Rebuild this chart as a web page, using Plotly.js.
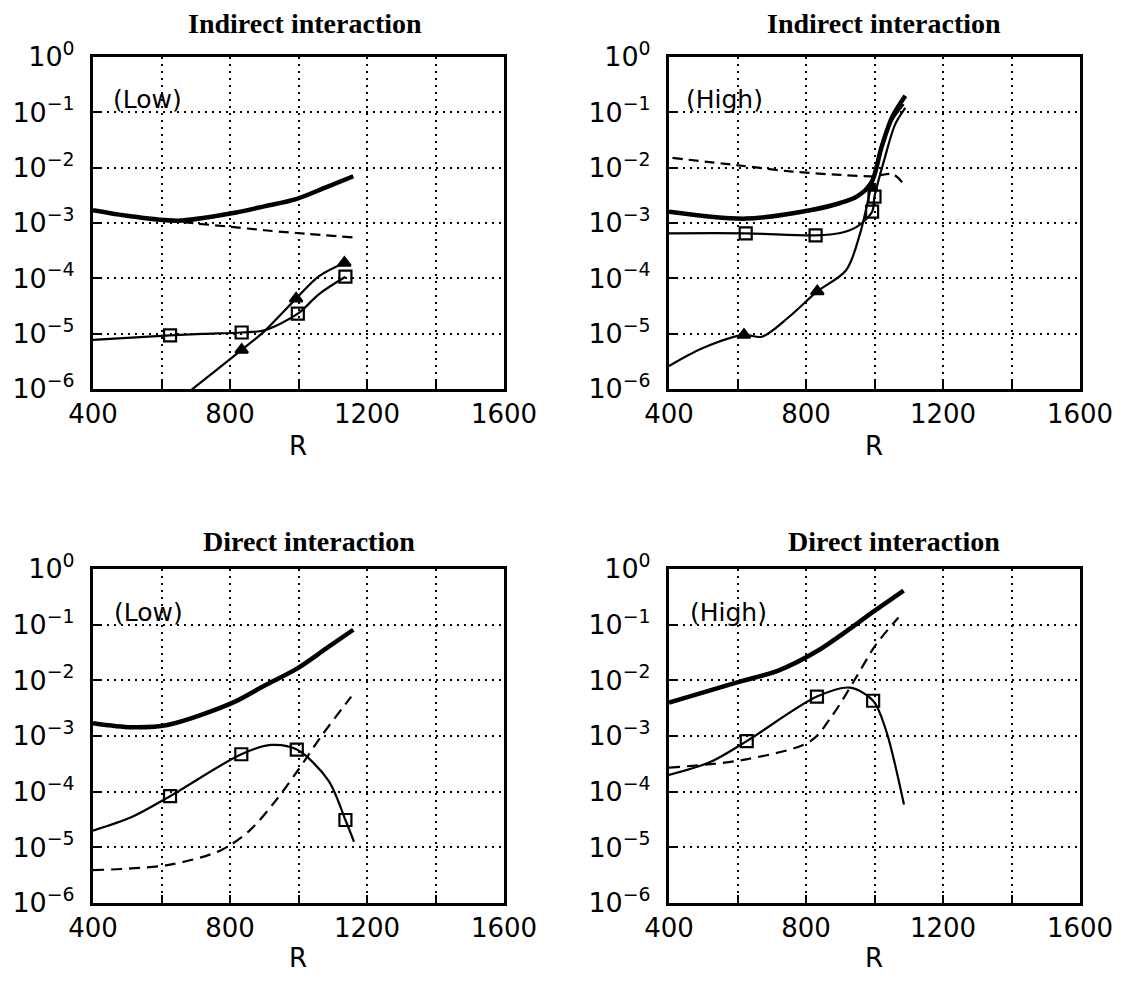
<!DOCTYPE html>
<html>
<head>
<meta charset="utf-8">
<script src="https://cdn.plot.ly/plotly-3.0.1.min.js"></script>
<style>html,body{margin:0;padding:0;background:#fff;}</style>
</head>
<body>
<div id="chart" style="width:1123px;height:985px;"></div>
<script>
// ---------- Panel 1: Indirect interaction (Low) ----------
const p1ThickR = [400, 500, 648, 805, 900, 993, 1080, 1160];
const p1ThickV = [1.7e-3, 1.35e-3, 1.1e-3, 1.5e-3, 2.0e-3, 2.7e-3, 4.4e-3, 7.0e-3];
const p1DashR = [617, 700, 805, 900, 993, 1160];
const p1DashV = [1.1e-3, 9.8e-4, 8.5e-4, 7.4e-4, 6.6e-4, 5.5e-4];
const p1SqR = [400, 500, 625, 720, 834, 900, 998, 1060, 1137];
const p1SqV = [7.7e-6, 8.4e-6, 9.3e-6, 9.9e-6, 1.05e-5, 1.15e-5, 2.3e-5, 5.2e-5, 1.07e-4];
const p1SqMarkR = [625, 834, 998, 1137];
const p1SqMarkV = [9.3e-6, 1.05e-5, 2.3e-5, 1.07e-4];
const p1TriR = [650, 690, 760, 834, 900, 993, 1060, 1134];
const p1TriV = [6.5e-7, 1.0e-6, 2.2e-6, 5.1e-6, 1.1e-5, 4.3e-5, 1.1e-4, 1.9e-4];
const p1TriMarkR = [834, 993, 1134];
const p1TriMarkV = [5.1e-6, 4.3e-5, 1.9e-4];

// ---------- Panel 2: Indirect interaction (High) ----------
const p2ThickR = [400, 624, 812, 900, 948, 990, 1021, 1052, 1090];
const p2ThickV = [1.6e-3, 1.2e-3, 1.7e-3, 2.3e-3, 3.0e-3, 5.2e-3, 2.4e-2, 8.3e-2, 0.2];
const p2DashR = [410, 603, 760, 900, 996, 1054, 1090];
const p2DashV = [1.5e-2, 1.1e-2, 8.5e-3, 7.4e-3, 7.0e-3, 7.6e-3, 4.6e-3];
const p2SqR = [400, 624, 828, 900, 948, 993, 1000, 1030, 1060, 1090];
const p2SqV = [6.5e-4, 6.5e-4, 6.0e-4, 6.6e-4, 8.5e-4, 1.6e-3, 3.0e-3, 1.5e-2, 6.0e-2, 1.2e-1];
const p2SqMarkR = [624, 828, 993, 1000];
const p2SqMarkV = [6.5e-4, 6.0e-4, 1.6e-3, 3.0e-3];
const p2TriR = [400, 499, 619, 671, 750, 833, 917, 958, 990, 1020, 1050, 1085];
const p2TriV = [2.6e-6, 5.5e-6, 9.5e-6, 8.8e-6, 2.0e-5, 5.8e-5, 1.4e-4, 6.5e-4, 4.5e-3, 2.5e-2, 7.0e-2, 1.4e-1];
const p2TriMarkR = [619, 833, 990];
const p2TriMarkV = [9.5e-6, 5.8e-5, 4.5e-3];

// ---------- Panel 3: Direct interaction (Low) ----------
const p3ThickR = [400, 513, 617, 805, 900, 998, 1080, 1160];
const p3ThickV = [1.7e-3, 1.44e-3, 1.58e-3, 3.9e-3, 8.0e-3, 1.66e-2, 3.7e-2, 8.1e-2];
const p3DashR = [400, 617, 774, 857, 930, 998, 1066, 1154];
const p3DashV = [3.9e-6, 4.8e-6, 8.9e-6, 2.0e-5, 6.5e-5, 2.4e-4, 9.8e-4, 5.1e-3];
const p3SqR = [400, 513, 625, 833, 920, 995, 1087, 1137, 1162];
const p3SqV = [2.0e-5, 3.5e-5, 8.3e-5, 4.7e-4, 6.9e-4, 5.7e-4, 1.6e-4, 3.1e-5, 1.26e-5];
const p3SqMarkR = [625, 833, 995, 1137];
const p3SqMarkV = [8.3e-5, 4.7e-4, 5.7e-4, 3.1e-5];

// ---------- Panel 4: Direct interaction (High) ----------
const p4ThickR = [400, 604, 719, 834, 1002, 1085];
const p4ThickV = [4.0e-3, 9.4e-3, 1.5e-2, 3.4e-2, 1.8e-1, 4.1e-1];
const p4DashR = [400, 625, 813, 876, 949, 1002, 1070];
const p4DashV = [2.7e-4, 3.8e-4, 8.1e-4, 2.3e-3, 1.2e-2, 4.2e-2, 1.35e-1];
const p4SqR = [400, 520, 627, 832, 928, 996, 1033, 1086];
const p4SqV = [2.0e-4, 3.4e-4, 8.1e-4, 5.1e-3, 7.4e-3, 4.3e-3, 1.3e-3, 5.9e-5];
const p4SqMarkR = [627, 832, 996];
const p4SqMarkV = [8.1e-4, 5.1e-3, 4.3e-3];

// ---------- Labels ----------
const xTickVals = [400, 600, 800, 1000, 1200, 1400, 1600];
const xTickText = ['400', '', '800', '', '1200', '', '1600'];
const yTickVals = [1e-6, 1e-5, 1e-4, 1e-3, 1e-2, 1e-1, 1];
const yTickText = ['10<sup>−6</sup>', '10<sup>−5</sup>', '10<sup>−4</sup>', '10<sup>−3</sup>', '10<sup>−2</sup>', '10<sup>−1</sup>', '10<sup>0</sup>'];
const panelTitles = ['Indirect interaction', 'Indirect interaction', 'Direct interaction', 'Direct interaction'];
const panelTags = ['(Low)', '(High)', '(Low)', '(High)'];
const xLabel = 'R';

// ---------- Layout geometry (pixels) ----------
const W = 1123, H = 985;
const boxes = [
  {l: 93, r: 504, t: 57, b: 389},
  {l: 669, r: 1080, t: 57, b: 389},
  {l: 93, r: 504, t: 569, b: 903},
  {l: 669, r: 1080, t: 569, b: 903}
];
const titlePos = [[305, 23], [884, 23], [309, 541], [894, 541]];
const tagPos = [[147, 99], [724, 99], [148, 612], [728, 612]];
const rPos = [[298, 446], [874, 446], [298, 958], [874, 958]];

const sansFont = 'DejaVu Sans, Liberation Sans, Arial, sans-serif';
const serifFont = 'Liberation Serif, Times New Roman, serif';

function lineTrace(x, y, ax, width, dash) {
  return {x: x, y: y, xaxis: 'x' + ax, yaxis: 'y' + ax, type: 'scatter', mode: 'lines',
    line: {color: '#000', width: width, dash: dash || 'solid', shape: 'spline', smoothing: 0.9},
    hoverinfo: 'skip', cliponaxis: true};
}
function markTrace(x, y, ax, sym, size) {
  return {x: x, y: y, xaxis: 'x' + ax, yaxis: 'y' + ax, type: 'scatter', mode: 'markers',
    marker: {symbol: sym, size: size, color: '#000', line: {color: '#000', width: 2.2}},
    hoverinfo: 'skip', cliponaxis: false};
}

const traces = [
  lineTrace(p1ThickR, p1ThickV, '', 4.5),
  lineTrace(p1DashR, p1DashV, '', 2.2, '10px,6px'),
  lineTrace(p1SqR, p1SqV, '', 2.2),
  lineTrace(p1TriR, p1TriV, '', 2.2),
  markTrace(p1SqMarkR, p1SqMarkV, '', 'square-open', 12),
  markTrace(p1TriMarkR, p1TriMarkV, '', 'triangle-up', 11),

  lineTrace(p2ThickR, p2ThickV, '2', 4.5),
  lineTrace(p2DashR, p2DashV, '2', 2.2, '10px,6px'),
  lineTrace(p2SqR, p2SqV, '2', 2.2),
  lineTrace(p2TriR, p2TriV, '2', 2.2),
  markTrace(p2SqMarkR, p2SqMarkV, '2', 'square-open', 12),
  markTrace(p2TriMarkR, p2TriMarkV, '2', 'triangle-up', 11),

  lineTrace(p3ThickR, p3ThickV, '3', 4.5),
  lineTrace(p3DashR, p3DashV, '3', 2.2, '11px,7px'),
  lineTrace(p3SqR, p3SqV, '3', 2.2),
  markTrace(p3SqMarkR, p3SqMarkV, '3', 'square-open', 12),

  lineTrace(p4ThickR, p4ThickV, '4', 4.5),
  lineTrace(p4DashR, p4DashV, '4', 2.2, '11px,7px'),
  lineTrace(p4SqR, p4SqV, '4', 2.2),
  markTrace(p4SqMarkR, p4SqMarkV, '4', 'square-open', 12)
];

const layout = {
  width: W, height: H,
  margin: {l: 0, r: 0, t: 0, b: 0},
  paper_bgcolor: '#fff', plot_bgcolor: '#fff',
  showlegend: false,
  annotations: []
};

boxes.forEach(function (b, i) {
  const sfx = i === 0 ? '' : String(i + 1);
  const xa = {
    domain: [b.l / W, b.r / W], anchor: 'y' + sfx,
    range: [400, 1600], type: 'linear',
    tickmode: 'array', tickvals: xTickVals, ticktext: xTickText,
    ticks: 'inside', ticklen: 8, tickwidth: 2, tickcolor: '#000',
    ticklabelstandoff: 0,
    showline: true, linewidth: 3, linecolor: '#000', mirror: true,
    showgrid: true, gridcolor: '#000', gridwidth: 2, griddash: '2px,5px',
    zeroline: false, fixedrange: true,
    tickfont: {family: sansFont, size: 26, color: '#000'}
  };
  const ya = {
    domain: [1 - b.b / H, 1 - b.t / H], anchor: 'x' + sfx,
    type: 'log', range: [-6, 0],
    tickmode: 'array', tickvals: yTickVals, ticktext: yTickText,
    ticks: 'inside', ticklen: 8, tickwidth: 2, tickcolor: '#000',
    ticklabelstandoff: 10,
    showline: true, linewidth: 3, linecolor: '#000', mirror: true,
    showgrid: true, gridcolor: '#000', gridwidth: 2, griddash: '2px,5px',
    zeroline: false, fixedrange: true,
    tickfont: {family: sansFont, size: 27, color: '#000'}
  };
  layout['xaxis' + sfx] = xa;
  layout['yaxis' + sfx] = ya;

  layout.annotations.push({
    text: panelTitles[i], xref: 'paper', yref: 'paper',
    x: titlePos[i][0] / W, y: 1 - titlePos[i][1] / H,
    xanchor: 'center', yanchor: 'middle', showarrow: false,
    font: {family: serifFont, size: 28, color: '#000', weight: 'bold'}
  });
  layout.annotations.push({
    text: panelTags[i], xref: 'paper', yref: 'paper',
    x: tagPos[i][0] / W, y: 1 - tagPos[i][1] / H,
    xanchor: 'center', yanchor: 'middle', showarrow: false,
    font: {family: sansFont, size: 25, color: '#000'}
  });
  layout.annotations.push({
    text: xLabel, xref: 'paper', yref: 'paper',
    x: rPos[i][0] / W, y: 1 - rPos[i][1] / H,
    xanchor: 'center', yanchor: 'middle', showarrow: false,
    font: {family: sansFont, size: 26, color: '#000'}
  });
});

Plotly.newPlot('chart', traces, layout, {staticPlot: true, displayModeBar: false});
</script>
</body>
</html>
